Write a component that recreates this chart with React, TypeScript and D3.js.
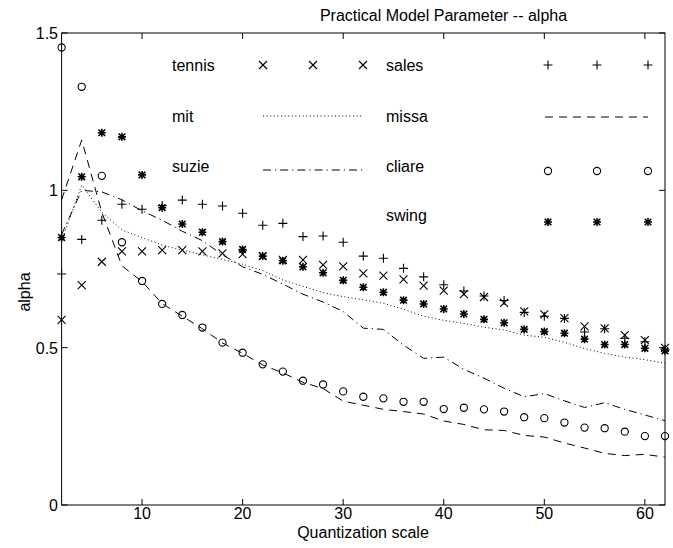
import React from "react";
import * as d3 from "d3";

const qs = [2,4,6,8,10,12,14,16,18,20,22,24,26,28,30,32,34,36,38,40,42,44,46,48,50,52,54,56,58,60,62];

const tennis = [0.588,0.699,0.773,0.806,0.806,0.81,0.81,0.806,0.80,0.797,0.791,0.779,0.779,0.763,0.758,0.736,0.729,0.717,0.697,0.681,0.670,0.661,0.642,0.615,0.606,0.594,0.568,0.561,0.540,0.524,0.499];
const sales = [0.734,0.844,0.905,0.956,0.94,0.952,0.969,0.956,0.95,0.927,0.889,0.895,0.853,0.855,0.835,0.791,0.784,0.752,0.725,0.70,0.68,0.664,0.65,0.612,0.60,0.593,0.55,0.56,0.53,0.519,0.495];
const mit = [0.84,1.017,0.93,0.874,0.85,0.826,0.81,0.795,0.78,0.765,0.745,0.715,0.695,0.675,0.662,0.652,0.641,0.622,0.60,0.587,0.577,0.565,0.556,0.54,0.533,0.517,0.497,0.482,0.47,0.462,0.45];
const missa = [0.97,1.16,0.93,0.76,0.71,0.64,0.60,0.56,0.515,0.482,0.445,0.42,0.39,0.37,0.33,0.317,0.304,0.297,0.289,0.267,0.256,0.239,0.237,0.221,0.216,0.197,0.181,0.164,0.157,0.161,0.152];
const suzie = [0.86,1.0,0.995,0.97,0.935,0.905,0.87,0.84,0.795,0.757,0.733,0.702,0.67,0.645,0.615,0.562,0.558,0.508,0.466,0.47,0.431,0.403,0.371,0.344,0.354,0.331,0.31,0.325,0.304,0.286,0.268];
const cliare = [1.454,1.329,1.046,0.835,0.712,0.639,0.604,0.564,0.516,0.484,0.447,0.424,0.395,0.383,0.361,0.344,0.339,0.328,0.328,0.305,0.309,0.304,0.297,0.279,0.276,0.262,0.246,0.244,0.233,0.219,0.219];
const swing = [0.85,1.043,1.183,1.17,1.049,0.945,0.893,0.867,0.837,0.812,0.791,0.776,0.757,0.738,0.714,0.692,0.676,0.651,0.639,0.623,0.607,0.590,0.579,0.558,0.551,0.546,0.527,0.51,0.51,0.498,0.49];

const xTicks = [10,20,30,40,50,60];
const yTicks = [0,0.5,1,1.5];
const yTickLabels = ["0","0.5","1","1.5"];

const W = 673, H = 548;
const L = 61.6, R = 665, T = 33, B = 505;
const FONT = "'Liberation Sans', Arial, Helvetica, sans-serif";

const x = d3.scaleLinear().domain([2, 62]).range([L, R]);
const y = d3.scaleLinear().domain([0, 1.5]).range([B, T]);

type MK = "x" | "+" | "o" | "*";

function Marker({ kind, cx, cy }: { kind: MK; cx: number; cy: number }) {
  const s = 4;
  if (kind === "x")
    return <path d={`M${cx - s},${cy - s}L${cx + s},${cy + s}M${cx - s},${cy + s}L${cx + s},${cy - s}`} stroke="#000" strokeWidth={1.1} fill="none" />;
  if (kind === "+")
    return <path d={`M${cx - s - 0.5},${cy}L${cx + s + 0.5},${cy}M${cx},${cy - s - 0.5}L${cx},${cy + s + 0.5}`} stroke="#000" strokeWidth={1.1} fill="none" />;
  if (kind === "o")
    return <circle cx={cx} cy={cy} r={3.6} stroke="#000" strokeWidth={1.1} fill="none" />;
  const a = 3.3;
  return <path d={`M${cx - s},${cy}L${cx + s},${cy}M${cx},${cy - s}L${cx},${cy + s}M${cx - a},${cy - a}L${cx + a},${cy + a}M${cx - a},${cy + a}L${cx + a},${cy - a}`} stroke="#000" strokeWidth={1.6} fill="none" />;
}

const line = d3.line<number>().x((_, i) => x(qs[i])).y((d) => y(d));

const DOT = "1,2.6";
const DASH = "8,6";
const DASHDOT = "8,4,1.2,4";

export default function App() {
  const markerSeries: { data: number[]; kind: MK }[] = [
    { data: tennis, kind: "x" },
    { data: sales, kind: "+" },
    { data: cliare, kind: "o" },
    { data: swing, kind: "*" },
  ];
  const lineSeries = [
    { data: mit, dash: DOT },
    { data: missa, dash: DASH },
    { data: suzie, dash: DASHDOT },
  ];
  const rowY = [65, 117, 170, 222];
  const lCol = { label: 172, m: [263, 313, 363] };
  const rCol = { label: 386, m: [548, 597, 648] };
  const txt = { fontFamily: FONT, fontSize: 16, fill: "#000" } as const;
  return (
    <svg width={W} height={H} style={{ position: "absolute", left: 0, top: 0, background: "#fff" }}>
      <rect x={0} y={0} width={W} height={H} fill="#fff" />
      {/* axes box */}
      <rect x={L} y={T} width={R - L} height={B - T} fill="none" stroke="#000" strokeWidth={1} />
      {xTicks.map((t) => (
        <g key={"xt" + t}>
          <line x1={x(t)} x2={x(t)} y1={B} y2={B - 6} stroke="#000" />
          <line x1={x(t)} x2={x(t)} y1={T} y2={T + 6} stroke="#000" />
          <text x={x(t)} y={519} textAnchor="middle" {...txt}>{t}</text>
        </g>
      ))}
      {yTicks.map((t, i) => (
        <g key={"yt" + t}>
          <line x1={L} x2={L + 6} y1={y(t)} y2={y(t)} stroke="#000" />
          <line x1={R} x2={R - 6} y1={y(t)} y2={y(t)} stroke="#000" />
          <text x={58} y={y(t) + 6} textAnchor="end" {...txt}>{yTickLabels[i]}</text>
        </g>
      ))}
      <text x={443.5} y={21} textAnchor="middle" {...txt}>Practical Model Parameter -- alpha</text>
      <text x={363} y={538} textAnchor="middle" {...txt}>Quantization scale</text>
      <text transform="translate(30,292) rotate(-90)" textAnchor="middle" {...txt}>alpha</text>

      {/* lines */}
      {lineSeries.map((s, i) => (
        <path key={"l" + i} d={line(s.data) || ""} fill="none" stroke="#000" strokeWidth={1} strokeDasharray={s.dash} />
      ))}
      {/* markers */}
      {markerSeries.map((s, i) =>
        s.data.map((v, j) => <Marker key={`m${i}-${j}`} kind={s.kind} cx={x(qs[j])} cy={y(v)} />)
      )}

      {/* legend */}
      <text x={lCol.label} y={rowY[0] + 6} {...txt}>tennis</text>
      {lCol.m.map((mx) => <Marker key={"lt" + mx} kind="x" cx={mx} cy={rowY[0]} />)}
      <text x={lCol.label} y={rowY[1] + 5} {...txt}>mit</text>
      <line x1={263} x2={363} y1={rowY[1] - 1} y2={rowY[1] - 1} stroke="#000" strokeDasharray={DOT} />
      <text x={lCol.label} y={rowY[2] + 2} {...txt}>suzie</text>
      <line x1={263} x2={363} y1={rowY[2]} y2={rowY[2]} stroke="#000" strokeDasharray={DASHDOT} />

      <text x={rCol.label} y={rowY[0] + 6} {...txt}>sales</text>
      {rCol.m.map((mx) => <Marker key={"ls" + mx} kind="+" cx={mx} cy={rowY[0]} />)}
      <text x={rCol.label} y={rowY[1] + 5} {...txt}>missa</text>
      <line x1={545} x2={648} y1={rowY[1]} y2={rowY[1]} stroke="#000" strokeDasharray={DASH} />
      <text x={rCol.label} y={rowY[2] + 2} {...txt}>cliare</text>
      {rCol.m.map((mx) => <Marker key={"lc" + mx} kind="o" cx={mx} cy={rowY[2] + 1} />)}
      <text x={rCol.label} y={rowY[3] - 1} {...txt}>swing</text>
      {rCol.m.map((mx) => <Marker key={"lw" + mx} kind="*" cx={mx} cy={rowY[3]} />)}
    </svg>
  );
}
